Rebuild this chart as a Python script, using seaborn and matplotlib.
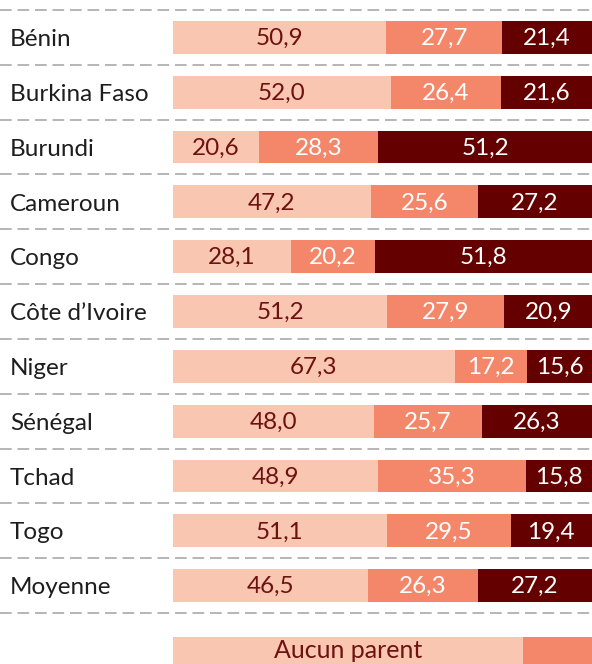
import numpy as np
import pandas as pd
import matplotlib.pyplot as plt
import seaborn as sns

sns.set_style('white')
plt.rcParams['font.family'] = ['Lato', 'DejaVu Sans']

# DATA
countries = ['Bénin', 'Burkina Faso', 'Burundi', 'Cameroun', 'Congo', 'Côte d’Ivoire',
             'Niger', 'Sénégal', 'Tchad', 'Togo', 'Moyenne']
aucun = [50.9, 52.0, 20.6, 47.2, 28.1, 51.2, 67.3, 48.0, 48.9, 51.1, 46.5]
un = [27.7, 26.4, 28.3, 25.6, 20.2, 27.9, 17.2, 25.7, 35.3, 29.5, 26.3]
deux = [21.4, 21.6, 51.2, 27.2, 51.8, 20.9, 15.6, 26.3, 15.8, 19.4, 27.2]
series_names = ['Aucun parent', 'Un parent', 'Deux parents']

colors = ['#f9c6b1', '#f4876a', '#650000']
text_colors = ['#6e1111', 'white', 'white']

df = pd.DataFrame({'pays': countries, 'aucun': aucun, 'un': un, 'deux': deux})
df['c1'] = df['aucun']
df['c2'] = df['aucun'] + df['un']
df['c3'] = df['c2'] + df['deux']

fig = plt.figure(figsize=(5.92, 6.64), dpi=100)
ax = fig.add_axes([0.292, 0.0768, 0.708, 0.9082])

# stacked bars: draw cumulative totals from the largest down
for col, c in zip(['c3', 'c2', 'c1'], colors[::-1]):
    sns.barplot(data=df, x=col, y='pays', orient='h', color=c, width=0.6,
                saturation=1, edgecolor='none', linewidth=0, ax=ax)

# value labels in the middle of each segment
starts = [np.zeros(len(df)), df['c1'].values, df['c2'].values]
for vals, left, tc in zip([aucun, un, deux], starts, text_colors):
    for i, (v, l) in enumerate(zip(vals, left)):
        ax.text(l + v / 2, i + 0.02, f'{v:.1f}'.replace('.', ','), ha='center', va='center',
                color=tc, fontsize=17.5, fontweight='normal', zorder=5)

ax.set_xlim(0, 100)
ax.set_ylim(len(countries) - 0.5, -0.5)
ax.set_xlabel('')
ax.set_ylabel('')
ax.set_xticks([])
ax.set_yticks([])
sns.despine(ax=ax, left=True, bottom=True)

# country names at left edge of figure
for i, name in enumerate(countries):
    ax.text(-0.389, i + 0.04, name, transform=ax.get_yaxis_transform(), ha='left', va='center',
            fontsize=17.5, color='#1e1e1e')

# dashed separators across the whole width
for k in range(len(countries) + 1):
    ax.axhline(k - 0.5, xmin=-0.412, xmax=1, color='#b5b5b5', lw=1.4,
               dashes=(6, 3), clip_on=False, zorder=0)

# legend (cut off at the bottom of the image)
lax = fig.add_axes([0.292, -0.009, 0.708, 0.0497])
lax.set_xlim(0, 100)
lax.set_ylim(0, 1)
lax.axis('off')
box_w = 83.6
for j, (name, c, tc) in enumerate(zip(series_names, colors, text_colors)):
    lax.add_patch(plt.Rectangle((j * box_w, 0), box_w, 1, color=c, clip_on=False, lw=0))
    if j * box_w + box_w / 2 < 100:
        lax.text(j * box_w + box_w / 2, 0.6, name, ha='center', va='center',
                 color=tc, fontsize=18, fontweight='normal')

fig.savefig('out.png', dpi=100)
